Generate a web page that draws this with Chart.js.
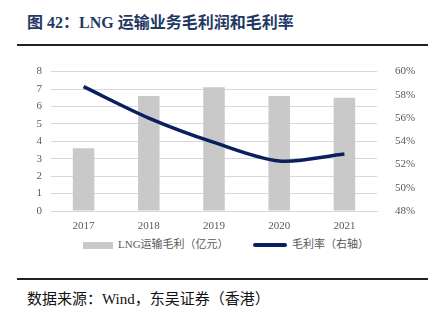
<!DOCTYPE html>
<html>
<head>
<meta charset="utf-8">
<script src="https://cdn.jsdelivr.net/npm/chart.js@4"></script>
<style>
body { margin: 0; width: 434px; height: 326px; background: #fff; position: relative; overflow: hidden; }
#title { position: absolute; left: 27px; top: 9px; font: bold 16px "Liberation Serif", "Noto Sans CJK SC", serif; color: #1f3864; white-space: nowrap; }
.rule { position: absolute; left: 17px; width: 411px; height: 0; border-top: 2px solid #222; }
#wrap { position: absolute; left: 0; top: 55px; width: 434px; height: 180px; }
#legend { position: absolute; top: 237px; left: 0; width: 434px; font: 11px "Liberation Serif", "Noto Sans CJK SC", serif; color: #595959; }
.lg { position: absolute; top: 0; white-space: nowrap; line-height: 14px; }
.sw { display: inline-block; vertical-align: middle; margin-right: 5px; }
#source { position: absolute; left: 27px; top: 287px; font: 15px "Liberation Serif", "Noto Sans CJK SC", serif; color: #111; white-space: nowrap; }
</style>
</head>
<body>
<div id="title">图 42：LNG 运输业务毛利润和毛利率</div>
<div class="rule" style="top:44px"></div>
<div id="wrap"><canvas id="myChart" width="434" height="180"></canvas></div>
<div id="legend">
    <div class="lg" style="left:83px"><span class="sw" style="width:30px;height:7px;background:#c9c9c9"></span>LNG运输毛利（亿元）</div>
    <div class="lg" style="left:253px"><span class="sw" style="width:34px;height:4px;border-radius:2px;background:#0b1f5e"></span>毛利率（右轴）</div>
</div>
<div class="rule" style="top:278px"></div>
<div id="source">数据来源：Wind，东吴证券（香港）</div>
<script>
let years = ['2017', '2018', '2019', '2020', '2021'];
let grossProfit = [3.6, 6.6, 7.1, 6.6, 6.5];
let grossMargin = [0.587, 0.560, 0.539, 0.523, 0.529];

let tickFont = { family: '"Liberation Serif", serif', size: 11 };

new Chart(document.getElementById('myChart'),
    {
        type: 'bar',
        data:
        {
            labels: years,
            datasets: [
                {
                    label: '毛利率（右轴）',
                    type: 'line',
                    data: grossMargin,
                    yAxisID: 'y1',
                    borderColor: '#0b1f5e',
                    borderWidth: 3.5,
                    pointRadius: 0,
                    tension: 0.3,
                    order: 0
                },
                {
                    label: 'LNG运输毛利（亿元）',
                    data: grossProfit,
                    backgroundColor: '#c9c9c9',
                    categoryPercentage: 1,
                    barPercentage: 0.33,
                    order: 1
                }
            ]
        },
        options:
        {
            responsive: false,
            animation: false,
            layout: { padding: { top: 14, left: 0, right: 0, bottom: 0 } },
            plugins: { legend: { display: false }, tooltip: { enabled: false } },
            scales: {
                x: {
                    grid: { display: false },
                    border: { color: '#d9d9d9' },
                    ticks: { color: '#595959', font: tickFont, padding: 1 },
                    afterFit: s => { s.height = 24; }
                },
                y: {
                    position: 'left',
                    min: 0,
                    max: 8,
                    ticks: { stepSize: 1, color: '#595959', font: tickFont, padding: 9 },
                    grid: { color: '#d9d9d9', drawTicks: false },
                    border: { display: false },
                    afterFit: s => { s.width = 51; }
                },
                y1: {
                    position: 'right',
                    min: 0.48,
                    max: 0.60,
                    ticks: {
                        stepSize: 0.02,
                        color: '#595959',
                        font: tickFont,
                        padding: 10,
                        callback: v => Math.round(v * 100) + '%'
                    },
                    grid: { display: false },
                    border: { display: false },
                    afterFit: s => { s.width = 57; }
                }
            }
        }
    }
);
</script>
</body>
</html>
